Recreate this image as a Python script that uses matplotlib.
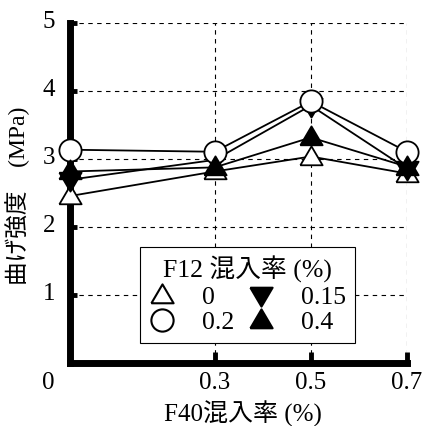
import matplotlib
matplotlib.use('Agg')
import matplotlib.pyplot as plt
import matplotlib.transforms as mtransforms
from matplotlib.lines import Line2D

plt.rcParams['font.family'] = ['Liberation Serif', 'Noto Sans CJK JP']

# F40混入率 (%)
f40 = [0.0, 0.3, 0.5, 0.7]
# 曲げ強度 (MPa) — 各 F12 混入率
s_000 = [2.45, 2.81, 3.03, 2.78]
s_015 = [2.69, 2.98, 3.78, 2.85]
s_020 = [3.13, 3.10, 3.84, 3.10]
s_040 = [2.81, 2.87, 3.31, 2.88]

# 三角マーカー（少し扁平）
tri_up = [(-1, -0.7), (1, -0.7), (0, 1), (-1, -0.7)]
tri_dn = [(-1, 0.7), (1, 0.7), (0, -1), (-1, 0.7)]

series = [
    ('0', s_000, tri_up, 'white'),
    ('0.15', s_015, tri_dn, 'black'),
    ('0.2', s_020, 'o', 'white'),
    ('0.4', s_040, tri_up, 'black'),
]

fig = plt.figure(figsize=(4.27, 4.26), dpi=100)
ax = fig.add_axes([0.165, 0.149, 0.788, 0.798])

for lab, ys, mk, fc in series:
    ax.plot(f40, ys, color='black', lw=1.3, marker=mk, ms=16, mfc=fc,
            mec='black', mew=1.3, clip_on=False, zorder=3)

ax.set_xlim(0, 0.7)
ax.set_ylim(0, 5)
ax.set_xticks([0.3, 0.5, 0.7])
ax.set_xticklabels(['0.3', '0.5', '0.7'])
ax.set_yticks([1, 2, 3, 4, 5])
ax.set_yticklabels(['1', '2', '3', '4', '5'])
ax.tick_params(axis='both', direction='in', width=3.5, color='black',
               labelsize=18)
ax.tick_params(axis='y', length=5, pad=11)
ax.tick_params(axis='x', length=8, pad=7)

off = mtransforms.ScaledTranslation(0, 0.03, fig.dpi_scale_trans)
for t in ax.get_yticklabels():
    t.set_transform(t.get_transform() + off)

ax.grid(True, ls=(0, (4, 4)), lw=0.8, color='black')
for s in ['top', 'right']:
    ax.spines[s].set_visible(False)
for s in ['left', 'bottom']:
    ax.spines[s].set_linewidth(5)

# 原点の「0」
ax.annotate('0', xy=(0, 0), xycoords='axes fraction', xytext=(-16, -14.8),
            textcoords='offset points', ha='center', va='center', fontsize=18)

ax.set_xlabel('F40混入率 (%)', fontsize=18)
ax.xaxis.set_label_coords(0.513, -0.113)

ax.set_ylabel('曲げ強度\u3000(MPa)', fontsize=17)
ax.yaxis.set_label_coords(-0.12, 0.49)

# 凡例: 列ごとに並ぶので順序を入れ替える
order = [0, 2, 1, 3]
handles = []
for i in order:
    lab, ys, mk, fc = series[i]
    handles.append(Line2D([], [], ls='none', marker=mk, ms=16, mfc=fc,
                          mec='black', mew=1.5, label=lab))
leg = ax.legend(handles=handles, ncol=2, loc='lower left',
                bbox_to_anchor=(0.2065, 0.057), borderaxespad=0,
                title='F12 混入率 (%)', fontsize=18.5, title_fontsize=18.5,
                handlelength=1.0, handletextpad=1.06, columnspacing=0.55,
                labelspacing=0.1, borderpad=0.35, fancybox=False,
                framealpha=1, edgecolor='black')
leg.get_frame().set_linewidth(0.8)
leg.set_zorder(5)

fig.savefig('out.png', dpi=100)
